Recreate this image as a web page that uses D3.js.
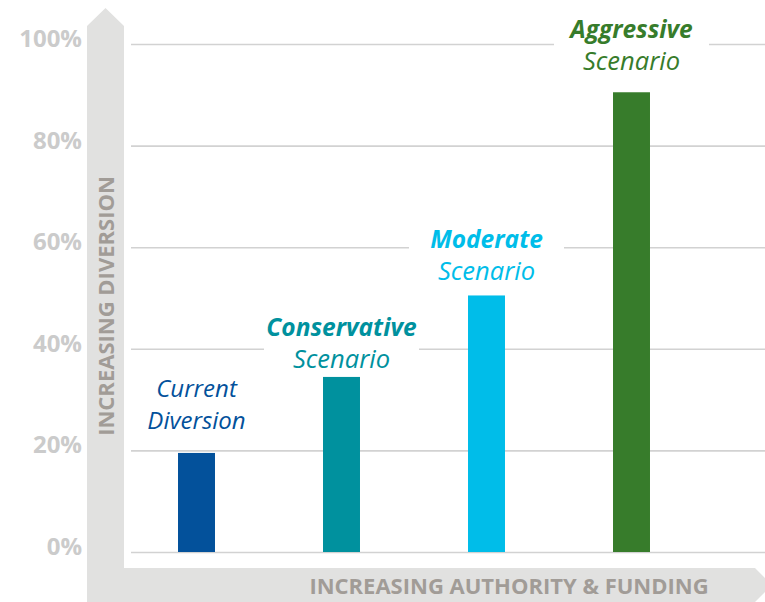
<!DOCTYPE html>
<html>
<head>
<meta charset="utf-8">
<script src="https://cdn.jsdelivr.net/npm/d3@7"></script>
<style>
  html, body { margin: 0; padding: 0; background: #ffffff; }
  svg { display: block; }
</style>
</head>
<body>
<svg id="chart" width="765" height="602"></svg>
<script>
// ---- data ----
const categories = ["current", "conservative", "moderate", "aggressive"];
const values = [19.5, 34.5, 50.5, 90.5];
const labelLine1 = ["Current", "Conservative", "Moderate", "Aggressive"];
const labelLine2 = ["Diversion", "Scenario", "Scenario", "Scenario"];
const labelBold = [false, true, true, true];
const colors = ["#03519b", "#00919e", "#00bde9", "#377c2b"];
const tickValues = [0, 20, 40, 60, 80, 100];
const yTitle = "INCREASING DIVERSION";
const xTitle = "INCREASING AUTHORITY & FUNDING";

// ---- layout ----
const W = 765, H = 602;
const svg = d3.select("#chart");
const font = "'Open Sans', sans-serif";
const labelGap = [24, 9, 15, 22]; // distance from second text baseline to bar top

const x = d3.scaleBand().domain(categories).range([124, 704])
  .paddingInner(0.745).paddingOuter(0.3725);
const y = d3.scaleLinear().domain([0, 100]).range([552, 44]);

// y axis with gridlines
const yAxis = d3.axisLeft(y)
  .tickValues(tickValues)
  .tickFormat(d => d + "%")
  .tickSizeInner(-(W - 131))
  .tickSizeOuter(0)
  .tickPadding(49);
const gy = svg.append("g").attr("transform", "translate(131,0)").call(yAxis);
gy.select(".domain").remove();
gy.selectAll(".tick line").attr("stroke", "#d2d2d2").attr("stroke-width", 1.6);
gy.selectAll(".tick text")
  .attr("fill", "#cbcbcb")
  .attr("font-family", font)
  .attr("font-weight", 700)
  .attr("font-size", 24)
  .attr("dy", "0.1em")
  .attr("dominant-baseline", "auto");

// bars
svg.append("g").selectAll("rect").data(categories).join("rect")
  .attr("x", d => x(d))
  .attr("width", x.bandwidth())
  .attr("y", (d, i) => y(values[i]))
  .attr("height", (d, i) => y(0) - y(values[i]))
  .attr("fill", (d, i) => colors[i]);

// labels
const lbl = svg.append("g").selectAll("g").data(categories).join("g")
  .attr("transform", (d, i) => {
    const cx = x(d) + x.bandwidth() / 2;
    const base2 = y(values[i]) - labelGap[i];
    return `translate(${cx},${base2})`;
  });
lbl.append("rect")
  .attr("x", -77.5).attr("width", 155)
  .attr("y", -57).attr("height", 66)
  .attr("fill", "#ffffff");
lbl.append("text")
  .attr("text-anchor", "middle")
  .attr("y", -32)
  .attr("font-family", font)
  .attr("font-style", "italic")
  .attr("font-weight", (d, i) => labelBold[i] ? 700 : 400)
  .attr("font-size", (d, i) => labelBold[i] ? 24.5 : 24)
  .attr("fill", (d, i) => colors[i])
  .text((d, i) => labelLine1[i]);
lbl.append("text")
  .attr("text-anchor", "middle")
  .attr("y", 0)
  .attr("font-family", font)
  .attr("font-style", "italic")
  .attr("font-weight", 400)
  .attr("font-size", (d, i) => labelBold[i] ? 25.5 : 24)
  .attr("fill", (d, i) => colors[i])
  .text((d, i) => labelLine2[i]);

// L-shaped arrow background (drawn on top of label boxes so it stays intact)
const arrowPath = d3.path();
arrowPath.moveTo(87, H);
arrowPath.lineTo(87, 26);
arrowPath.lineTo(105.5, 8);
arrowPath.lineTo(124, 26);
arrowPath.lineTo(124, 568);
arrowPath.lineTo(755, 568);
arrowPath.lineTo(772, 585);
arrowPath.lineTo(755, H);
arrowPath.closePath();
svg.append("path").attr("d", arrowPath.toString()).attr("fill", "#e1e1e0");

// axis titles
svg.append("text")
  .attr("transform", "translate(105,306) rotate(-90)")
  .attr("text-anchor", "middle")
  .attr("dominant-baseline", "central")
  .attr("font-family", font)
  .attr("font-weight", 700)
  .attr("font-size", 22)
  .attr("fill", "#a19c97")
  .text(yTitle);
svg.append("text")
  .attr("x", 509).attr("y", 585)
  .attr("text-anchor", "middle")
  .attr("dominant-baseline", "central")
  .attr("font-family", font)
  .attr("font-weight", 700)
  .attr("font-size", 22)
  .attr("fill", "#a19c97")
  .text(xTitle);
</script>
</body>
</html>
